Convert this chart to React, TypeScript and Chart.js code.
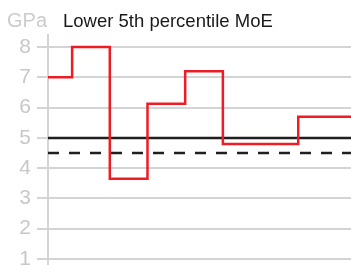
import React, { useEffect, useRef } from "react";
import { Chart, registerables } from "chart.js";

Chart.register(...registerables);

// Step boundaries (period index) and lower 5th percentile MoE values (GPa)
const periods = [-0.64, 0, 1, 2, 3, 4, 5, 6, 7.4];
const moeValues = [7.0, 8.0, 3.65, 6.13, 7.2, 4.8, 4.8, 5.7, 5.7];
const referenceSolid = 5.0;
const referenceDashed = 4.5;
const yTicks = [1, 2, 3, 4, 5, 6, 7, 8];
const unitLabel = "GPa";
const titleText = "Lower 5th percentile MoE";

const FONT = "'Liberation Sans', Arial, Helvetica, sans-serif";

export default function App() {
  const ref = useRef<HTMLCanvasElement | null>(null);

  useEffect(() => {
    if (!ref.current) return;
    const xMin = periods[0];
    const xMax = periods[periods.length - 1];
    const titlePlugin = {
      id: "titleText",
      afterDraw(chart: any) {
        const ctx = chart.ctx;
        ctx.save();
        ctx.textBaseline = "alphabetic";
        ctx.textAlign = "left";
        ctx.font = `20px ${FONT}`;
        ctx.fillStyle = "#cccccc";
        ctx.fillText(unitLabel, 7, 27);
        ctx.font = `18.5px ${FONT}`;
        ctx.fillStyle = "#1a1a1a";
        ctx.fillText(titleText, 63, 27);
        ctx.restore();
      },
    };
    const chart = new Chart(ref.current, {
      type: "line",
      data: {
        datasets: [
          {
            data: periods.map((p, i) => ({ x: p, y: moeValues[i] })),
            borderColor: "#ee1c25",
            borderWidth: 2.5,
            stepped: "before",
            pointRadius: 0,
            fill: false,
            clip: 4,
            order: 0,
          },
          {
            data: [
              { x: xMin, y: referenceSolid },
              { x: xMax, y: referenceSolid },
            ],
            borderColor: "#1f1f1f",
            borderWidth: 2.5,
            pointRadius: 0,
            fill: false,
            order: 1,
          },
          {
            data: [
              { x: xMin, y: referenceDashed },
              { x: xMax, y: referenceDashed },
            ],
            borderColor: "#1f1f1f",
            borderWidth: 2.5,
            borderDash: [11, 10],
            pointRadius: 0,
            fill: false,
            order: 2,
          },
        ],
      },
      options: {
        animation: false,
        responsive: false,
        maintainAspectRatio: false,
        layout: { padding: { top: 35, left: 0, right: 0, bottom: 0 } },
        plugins: {
          legend: { display: false },
          tooltip: { enabled: false },
          title: { display: false },
        },
        scales: {
          x: {
            type: "linear",
            min: xMin,
            max: xMax,
            display: false,
          },
          y: {
            min: 0.8,
            max: 8.4,
            afterBuildTicks: (s: any) => {
              s.ticks = yTicks.map((v) => ({ value: v }));
            },
            afterFit: (s: any) => {
              s.width = 48;
              s.paddingTop = 0;
              s.paddingBottom = 0;
            },
            border: { display: true, color: "#d4d4d4", width: 2 },
            grid: {
              color: "#d4d4d4",
              lineWidth: 2,
              tickLength: 11,
              drawOnChartArea: true,
            },
            ticks: {
              color: "#c8c8c8",
              font: { family: FONT, size: 21 },
              padding: 6,
            },
          },
        },
      },
      plugins: [titlePlugin],
    });
    return () => chart.destroy();
  }, []);

  return (
    <div style={{ position: "fixed", left: 0, top: 0, width: 351, height: 265, background: "#fff" }}>
      <canvas ref={ref} width={351} height={265} style={{ width: 351, height: 265, display: "block" }} />
    </div>
  );
}
